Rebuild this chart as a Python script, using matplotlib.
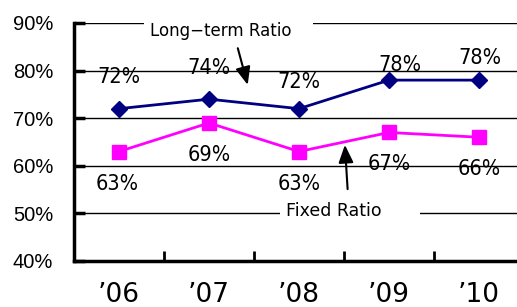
import matplotlib
matplotlib.use("Agg")
import matplotlib.pyplot as plt
from matplotlib.ticker import FixedLocator
from matplotlib import font_manager

years = ["\u201906", "\u201907", "\u201908", "\u201909", "\u201910"]
long_term = [72, 74, 72, 78, 78]
fixed = [63, 69, 63, 67, 66]
yticks = [40, 50, 60, 70, 80, 90]
ytick_labels = ["40%", "50%", "60%", "70%", "80%", "90%"]

# pick a narrow font if one is available
fonts = font_manager.fontManager.ttflist
narrow = dict(family="Liberation Sans", fontstretch="normal", fontsize=14.5)
if any(f.name == "Liberation Sans Narrow" for f in fonts):
    narrow = dict(family="Liberation Sans Narrow", fontstretch="normal", fontsize=16)
elif any(f.name == "DejaVu Sans" and f.stretch == "condensed" for f in fonts):
    narrow = dict(family="DejaVu Sans", fontstretch="condensed", fontsize=15.5)

fig = plt.figure(figsize=(5.17, 3.07), dpi=100)
ax = fig.add_axes([74/517, 46/307, 450/517, 238/307])
x = list(range(len(years)))

ax.set_xlim(-0.5, 4.5)
ax.set_ylim(40, 90)
for yv in yticks[1:]:
    ax.axhline(yv, color="black", lw=1.0, zorder=1)

ax.plot(x, long_term, color="#000080", lw=2, marker="D", ms=8, zorder=3, clip_on=False)
ax.plot(x, fixed, color="#FF00FF", lw=2, marker="s", ms=10.5, zorder=3, clip_on=False)

lt_off = [(0, 32), (0, 31), (0, 27), (11, 15), (1, 22)]
fx_off = [(-2, -32), (0, -32), (0, -32), (0, -31.5), (0, -32)]
for i in x:
    ax.annotate(f"{long_term[i]}%", (i, long_term[i]), xytext=lt_off[i], textcoords="offset pixels",
                ha="center", va="center", zorder=5, **narrow)
    ax.annotate(f"{fixed[i]}%", (i, fixed[i]), xytext=fx_off[i], textcoords="offset pixels",
                ha="center", va="center", zorder=5, **narrow)

# series name callouts
ax.text(0.343, 88.3, "Long\u2212term Ratio   ", ha="left", va="center", fontsize=12,
        family="DejaVu Sans", bbox=dict(facecolor="white", edgecolor="none", pad=4), zorder=4)
ax.annotate("", xy=(1.43, 77.0), xytext=(1.32, 84.7),
            arrowprops=dict(arrowstyle="-|>,head_length=0.6,head_width=0.25", color="black",
                            lw=1.5, mutation_scale=18, shrinkA=0, shrinkB=0), zorder=6)
ax.text(1.85, 50.4, "Fixed Ratio      ", ha="left", va="center", fontsize=12.5,
        family="DejaVu Sans", bbox=dict(facecolor="white", edgecolor="none", pad=4), zorder=4)
ax.annotate("", xy=(2.51, 64.4), xytext=(2.54, 55.1),
            arrowprops=dict(arrowstyle="-|>,head_length=0.6,head_width=0.25", color="black",
                            lw=1.5, mutation_scale=18, shrinkA=0, shrinkB=0), zorder=6)

ax.set_yticks(yticks)
ax.set_yticklabels(ytick_labels, fontsize=14.5, family="Liberation Sans")
ax.tick_params(axis="y", direction="in", length=8, width=2.5, pad=15)
ax.xaxis.set_major_locator(FixedLocator([0.5, 1.5, 2.5, 3.5]))
ax.set_xticklabels([])
ax.xaxis.set_minor_locator(FixedLocator(x))
ax.set_xticklabels(years, minor=True, fontsize=19, family="DejaVu Sans")
ax.tick_params(axis="x", which="major", direction="in", length=7, width=2)
ax.tick_params(axis="x", which="minor", length=0, pad=15)

for s in ["top", "right"]:
    ax.spines[s].set_visible(False)
ax.spines["left"].set_linewidth(2.5)
ax.spines["bottom"].set_linewidth(2.5)

fig.savefig("out.png", dpi=100)
